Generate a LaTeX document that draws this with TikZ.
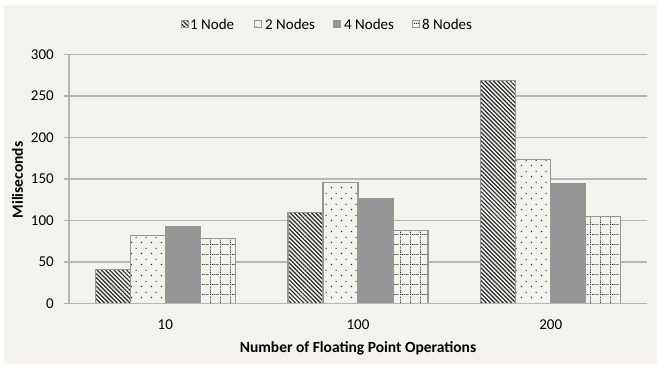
\documentclass[tikz,border=0pt]{standalone}
\usepackage{fontspec}
\setmainfont{Carlito}
\usetikzlibrary{patterns,patterns.meta}

% sparse staggered dots
\pgfdeclarepatternformonly{sparsedots}{\pgfpointorigin}{\pgfpoint{10bp}{11bp}}{\pgfpoint{10bp}{11bp}}{
  \pgfpathrectangle{\pgfpoint{1bp}{1bp}}{\pgfpoint{1.2bp}{1.2bp}}
  \pgfpathrectangle{\pgfpoint{6bp}{6.5bp}}{\pgfpoint{1.2bp}{1.2bp}}
  \pgfusepath{fill}}

% dotted square grid
\pgfdeclarepatternformonly{dotgrid}{\pgfpointorigin}{\pgfpoint{10bp}{10bp}}{\pgfpoint{10bp}{10bp}}{
  \pgfpathrectangle{\pgfpoint{0bp}{0bp}}{\pgfpoint{1bp}{1bp}}
  \pgfpathrectangle{\pgfpoint{0bp}{2bp}}{\pgfpoint{1bp}{1bp}}
  \pgfpathrectangle{\pgfpoint{0bp}{4bp}}{\pgfpoint{1bp}{1bp}}
  \pgfpathrectangle{\pgfpoint{0bp}{6bp}}{\pgfpoint{1bp}{1bp}}
  \pgfpathrectangle{\pgfpoint{0bp}{8bp}}{\pgfpoint{1bp}{1bp}}
  \pgfpathrectangle{\pgfpoint{2bp}{0bp}}{\pgfpoint{1bp}{1bp}}
  \pgfpathrectangle{\pgfpoint{4bp}{0bp}}{\pgfpoint{1bp}{1bp}}
  \pgfpathrectangle{\pgfpoint{6bp}{0bp}}{\pgfpoint{1bp}{1bp}}
  \pgfpathrectangle{\pgfpoint{8bp}{0bp}}{\pgfpoint{1bp}{1bp}}
  \pgfusepath{fill}}

\definecolor{panel}{RGB}{243,242,236}
\definecolor{gridgray}{RGB}{182,182,180}
\definecolor{edgegray}{RGB}{150,150,150}
\definecolor{solidgray}{RGB}{150,150,150}
\definecolor{ink}{RGB}{40,40,40}

\tikzset{
  gridline/.style={draw=gridgray, line width=1.3bp},
  bar/.style={draw=edgegray, line width=1.1bp},
  oneN/.style={bar, preaction={fill=panel}, pattern={Lines[angle=-45,distance=3bp,line width=1.2bp]}, pattern color=ink},
  twoN/.style={bar, preaction={fill=panel}, pattern=sparsedots, pattern color=ink},
  fourN/.style={bar, fill=solidgray},
  eightN/.style={bar, preaction={fill=panel}, pattern=dotgrid, pattern color=ink},
  ticklbl/.style={font=\fontsize{15bp}{17bp}\selectfont, text=black, inner sep=0pt},
  axtitle/.style={font=\fontsize{15.5bp}{17bp}\selectfont\bfseries, text=black, inner sep=0pt},
  legtext/.style={font=\fontsize{15bp}{17bp}\selectfont, text=black, inner sep=0pt, anchor=west},
}

% one bar: #1 style, #2 left edge, #3 value
\newcommand\chartbar[3]{%
  \path[#1] (#2,303.3) rectangle (#2+35,{303.3-0.8287*#3});}

\begin{document}
\begin{tikzpicture}[x=1bp,y=-1bp]
  % page and chart panel
  \fill[white] (0,0) rectangle (657,364);
  \fill[panel] (4,5) rectangle (657,364);
  \useasboundingbox (0,0) rectangle (657,364);

  % horizontal grid, y ticks and labels
  \foreach \v in {0,50,...,300} {
    \pgfmathsetmacro\yy{303.3-0.8287*\v}
    \draw[gridline] (64,\yy) -- (647,\yy);
    \node[ticklbl, anchor=east] (t\v) at (54,\yy) {\v};
  }
  \draw[gridline] (69,54.7) -- (69,303.3);

  % bars, group 10
  \chartbar{oneN}{95.3}{41}
  \chartbar{twoN}{130.3}{82}
  \chartbar{fourN}{165.3}{93}
  \chartbar{eightN}{200.3}{78}
  % group 100
  \chartbar{oneN}{288}{110}
  \chartbar{twoN}{323}{146}
  \chartbar{fourN}{358}{126}
  \chartbar{eightN}{393}{88}
  % group 200
  \chartbar{oneN}{480.7}{269}
  \chartbar{twoN}{515.7}{174}
  \chartbar{fourN}{550.7}{144}
  \chartbar{eightN}{585.7}{105}
  \draw[gridline] (69,303.3) -- (647,303.3);

  % category labels and axis titles
  \node[ticklbl] (c10) at (165.3,324.5) {10};
  \node[ticklbl] (c100) at (358,324.5) {100};
  \node[ticklbl] (c200) at (550.7,324.5) {200};
  \node[axtitle] (xt) at (358,348) {Number of Floating Point Operations};
  \node[axtitle, rotate=90] (yt) at (17.5,180) {Miliseconds};

  % legend
  \path[oneN] (181.5,20.5) rectangle (188.5,27.5);
  \node[legtext] (l1) at (190,24) {1 Node};
  \path[twoN] (254.5,20.5) rectangle (261.5,27.5);
  \node[legtext] (l2) at (265,24) {2 Nodes};
  \path[fourN] (333.5,20.5) rectangle (340.5,27.5);
  \node[legtext] (l4) at (344,24) {4 Nodes};
  \path[eightN] (412.5,20.5) rectangle (419.5,27.5);
  \node[legtext] (l8) at (422,24) {8 Nodes};
\end{tikzpicture}
\end{document}
